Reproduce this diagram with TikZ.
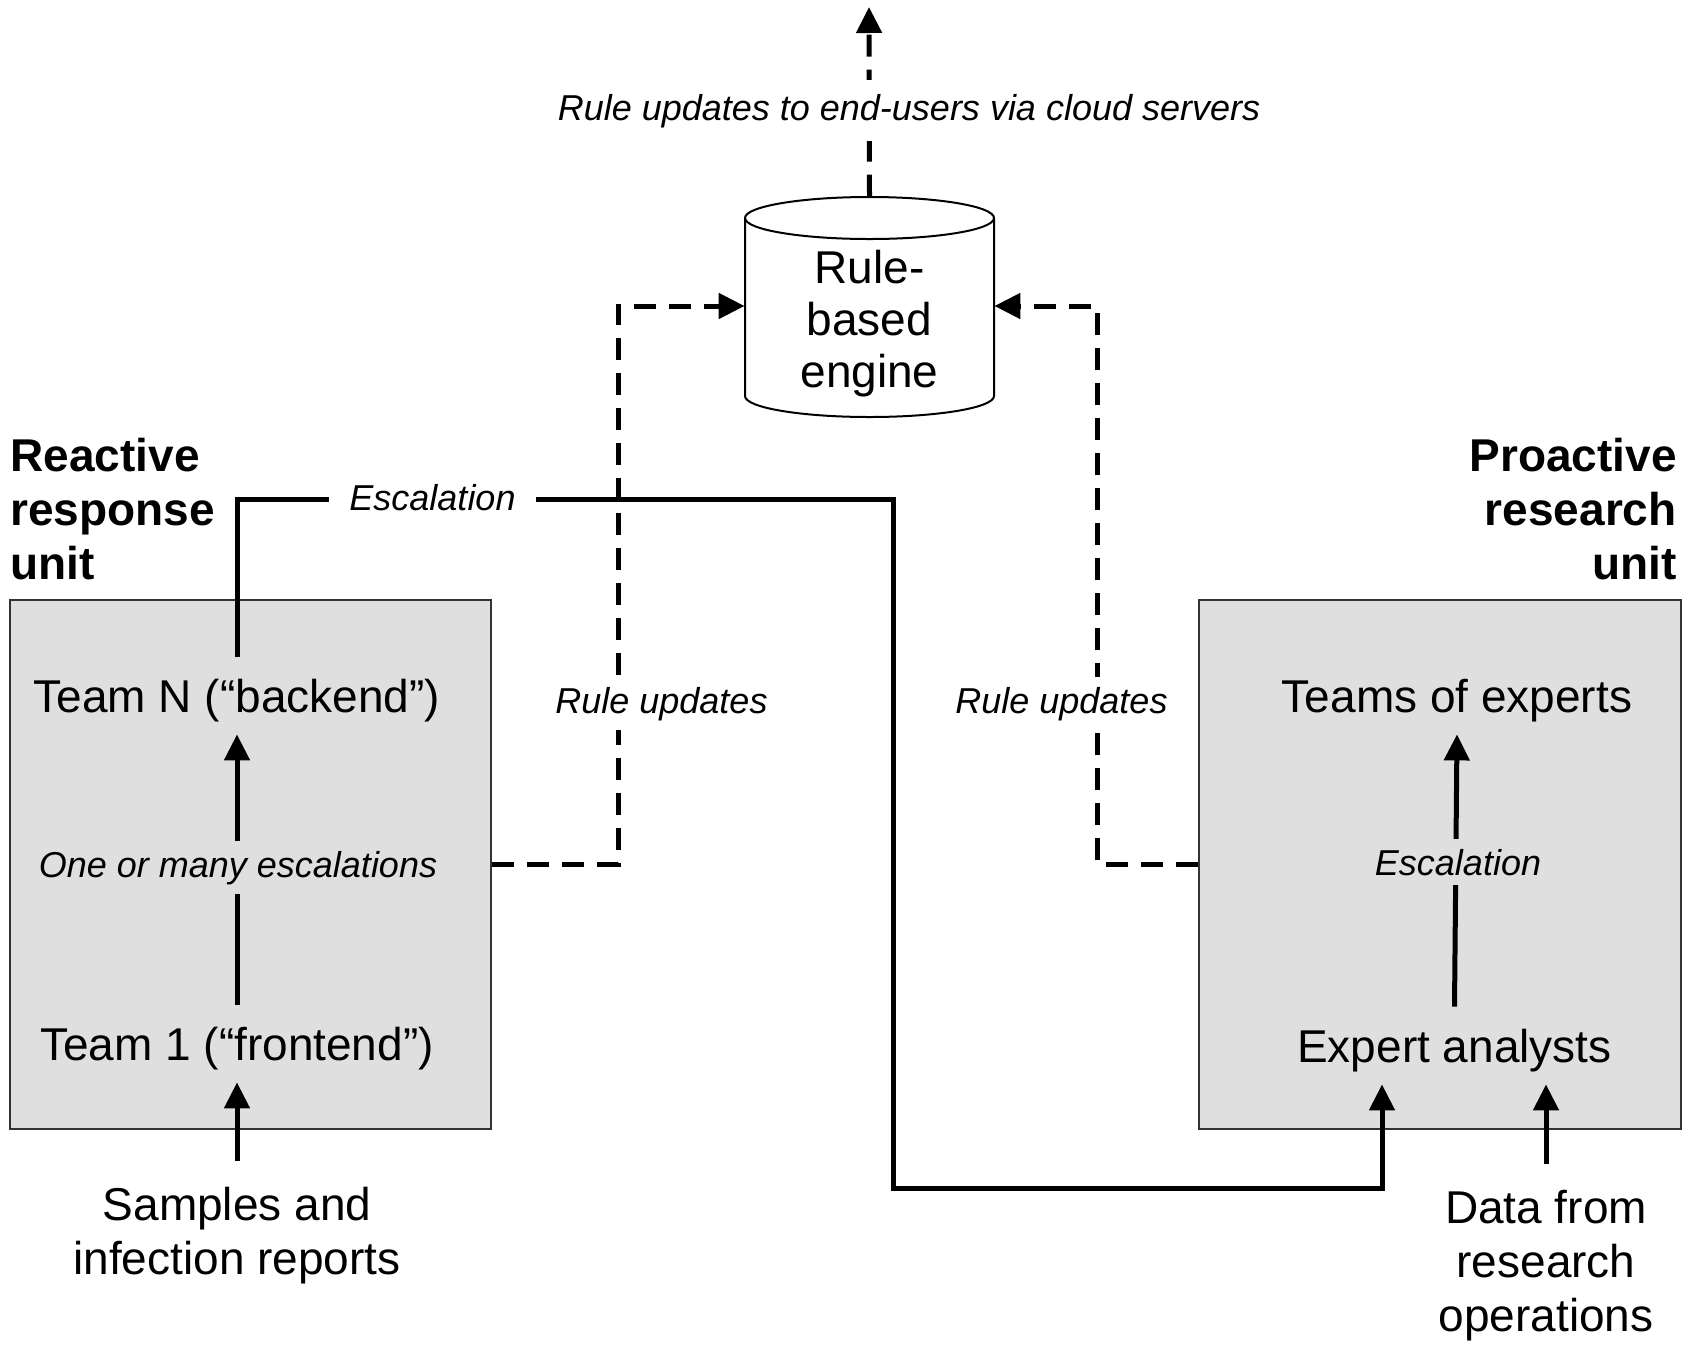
\documentclass[tikz,border=0pt]{standalone}
\usepackage{fontspec}
\setmainfont{Liberation Sans}
\usetikzlibrary{arrows.meta}
\definecolor{boxgray}{RGB}{223,223,223}
\begin{document}
\begin{tikzpicture}[x=0.5pt,y=-0.5pt,
  conn/.style={line width=2.5pt},
  dashconn/.style={line width=2.5pt, dash pattern=on 11pt off 6.5pt},
  tip/.style={-{Triangle[length=13pt,width=12.5pt]}},
  txt/.style={font=\fontsize{23}{27}\selectfont, text height=16.5pt, text depth=0pt, inner xsep=2pt, inner ysep=11pt, anchor=base},
  multi/.style={font=\fontsize{23}{27}\selectfont, align=center, inner xsep=0pt, anchor=base},
  title/.style={font=\fontsize{23}{27}\selectfont\bfseries, inner sep=0pt},
  lab/.style={font=\fontsize{18}{21}\selectfont\itshape, inner xsep=4pt, inner ysep=5pt, anchor=base},
  unitbox/.style={draw=black!80, line width=1pt, fill=boxgray, inner sep=0pt},
  cyl/.style={draw=black, line width=1pt}]

\useasboundingbox (0,0) rectangle (1686,1350);

% unit boxes
\node[unitbox, minimum width=240.5pt, minimum height=264.25pt] (rbox) at (250.5,864.25) {};
\node[unitbox, minimum width=240.75pt, minimum height=264.25pt] (pbox) at (1439.9,864.25) {};

% rule-based engine (cylinder)
\node[minimum width=124.5pt, minimum height=109pt, inner sep=0pt] (eng) at (869.5,306) {};
\draw[cyl] (745,218) -- (745,396) .. controls (745,407.6) and (800.7,417) .. (869.5,417)
  .. controls (938.3,417) and (994,407.6) .. (994,396) -- (994,218);
\draw[cyl] (869.5,218) ellipse [x radius=124.5, y radius=21];
% base anchor of a multi-line node = baseline of its last line
\node[multi, font=\fontsize{23}{26}\selectfont, inner ysep=0pt] (engtxt) at (869.5,387) {Rule-\\based\\engine};

% titles
\node[title, anchor=base west, align=left] (reactive) at (10,579) {Reactive\\response\\unit};
\node[title, anchor=base east, align=right] (proactive) at (1677,579) {Proactive\\research\\unit};

% text nodes
\node[txt] (teamN) at (237,712) {Team N (“backend”)};
\node[txt] (team1) at (237,1060) {Team 1 (“frontend”)};
\node[txt] (toe) at (1457,712) {Teams of experts};
\node[txt] (expert) at (1454.5,1062) {Expert analysts};
\node[multi, inner ysep=12.5pt] (samples) at (237,1274) {Samples and\\infection reports};
\node[multi, inner ysep=12.5pt] (data) at (1546,1331) {Data from\\research\\operations};

% helper coordinates
\coordinate (toptip) at (869,7);
\coordinate (lcol) at (618,0);
\coordinate (rcol) at (1097,0);
\coordinate (ec1) at (893,499);
\coordinate (ec2) at (1382,1188);

% connectors
\draw[conn,tip] (samples.north) -- (team1.south);
\draw[conn,tip] (team1.north) -- (teamN.south);
\draw[conn,tip] (expert.north) -- (toe.south);
\draw[conn,tip] (data.north) -- (data.north |- expert.south);
\draw[conn,tip] (teamN.north) |- (ec1) |- (ec2) -- (ec2 |- expert.south);
\draw[dashconn,tip] (rbox.east) -- (rbox.east -| lcol) |- (eng.west);
\draw[dashconn,tip] (pbox.west) -- (pbox.west -| rcol) |- (eng.east);
\draw[dashconn,tip] (eng.north) -- (toptip);

% labels
\node[lab, fill=white, inner ysep=7pt] (ruptop) at (909,120) {Rule updates to end-users via cloud servers};
\node[lab, fill=white, inner xsep=10pt] (escL) at (432.5,510) {Escalation};
\node[lab, fill=boxgray] (manyesc) at (238,877) {One or many escalations};
\node[lab, fill=boxgray] (escR) at (1458,875) {Escalation};
\node[lab, fill=white] (ruL) at (661.5,713) {Rule updates};
\node[lab, fill=white] (ruR) at (1061.5,713) {Rule updates};
\end{tikzpicture}
\end{document}
